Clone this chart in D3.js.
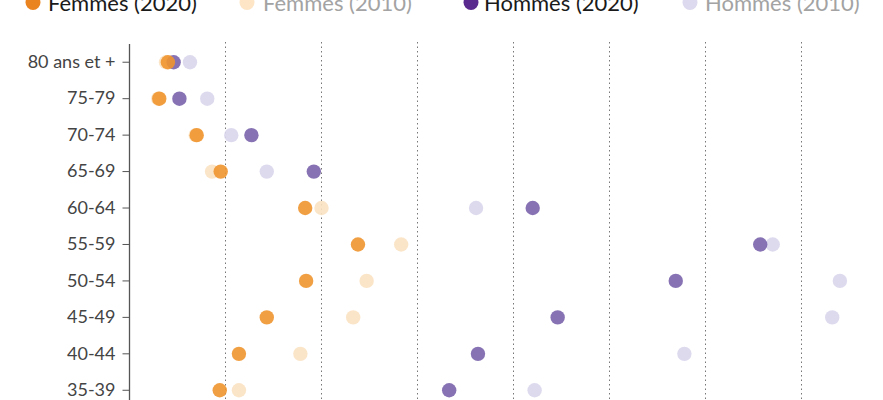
<!DOCTYPE html>
<html><head><meta charset="utf-8">
<script src="https://cdn.jsdelivr.net/npm/d3@7"></script>
<style>body{margin:0;background:#fff}svg{display:block}text{font-family:Lato,"Open Sans",sans-serif}</style>
</head><body><svg id="c" width="883" height="400"></svg>
<script>
const ageGroups = ["80 ans et +","75-79","70-74","65-69","60-64","55-59","50-54","45-49","40-44","35-39"];
const femmes2020 = [4.0, 3.1, 7.0, 9.5, 18.3, 23.8, 18.4, 14.3, 11.4, 9.4];
const femmes2010 = [3.8, 3.0, 6.9, 8.6, 20.0, 28.3, 24.7, 23.3, 17.8, 11.4];
const hommes2020 = [4.6, 5.2, 12.7, 19.2, 42.0, 65.7, 56.9, 44.6, 36.3, 33.3];
const hommes2010 = [6.3, 8.1, 10.6, 14.3, 36.1, 67.0, 74.0, 73.2, 57.8, 42.2];
const xTicks = [10, 20, 30, 40, 50, 60, 70];
const seriesNames = ["Femmes (2020)","Femmes (2010)","Hommes (2020)","Hommes (2010)"];

const svg = d3.select("#c");
const x = d3.scaleLinear().domain([0, 10]).range([129.5, 225.5]);
const y = d3.scaleBand().domain(ageGroups).range([44, 44 + 36.45 * ageGroups.length]);

// gridlines
svg.append("g").selectAll("line").data(xTicks).join("line")
  .attr("x1", d => Math.round(x(d)) - 0.5).attr("x2", d => Math.round(x(d)) - 0.5)
  .attr("y1", 42).attr("y2", 400)
  .attr("stroke", "#777").attr("stroke-width", 1).attr("stroke-dasharray", "1.5,3");

// y axis
const yAxis = svg.append("g").attr("transform", "translate(129.5,0)")
  .call(d3.axisLeft(y).tickSize(7).tickPadding(7));
yAxis.select(".domain").attr("stroke", "#555").attr("stroke-width", 1.3).attr("d", "M0,44V400");
yAxis.selectAll(".tick line").attr("stroke", "#555");
yAxis.selectAll(".tick text").attr("fill", "#444").style("font-size", "18px")
  .style("font-family", "Lato, sans-serif");

const series = [
  {vals: femmes2010, fill: "#fbe2c2"},
  {vals: hommes2010, fill: "#d9d6ec"},
  {vals: hommes2020, fill: "#7a64ac"},
  {vals: femmes2020, fill: "#f0952f"}
];
series.forEach(s => {
  svg.append("g").selectAll("circle").data(ageGroups).join("circle")
    .attr("cx", (d, i) => x(s.vals[i]))
    .attr("cy", d => y(d) + y.bandwidth() / 2)
    .attr("r", 7.2)
    .attr("fill", s.fill).attr("fill-opacity", 0.9);
});

// legend
const legend = [
  {name: seriesNames[0], cx: 33, tx: 48, c: "#ea8420", t: "#1a1a1a"},
  {name: seriesNames[1], cx: 247, tx: 263, c: "#fde5c6", t: "#a3a3a3"},
  {name: seriesNames[2], cx: 471, tx: 484, c: "#5a2a8e", t: "#1a1a1a"},
  {name: seriesNames[3], cx: 690, tx: 705, c: "#ddd9ee", t: "#a3a3a3"}
];
const lg = svg.append("g");
legend.forEach(l => {
  lg.append("circle").attr("cx", l.cx).attr("cy", 2.5).attr("r", 7.5).attr("fill", l.c);
  lg.append("text").attr("x", l.tx).attr("y", 11).text(l.name)
    .attr("fill", l.t).style("font-size", "22px");
});
</script></body></html>
